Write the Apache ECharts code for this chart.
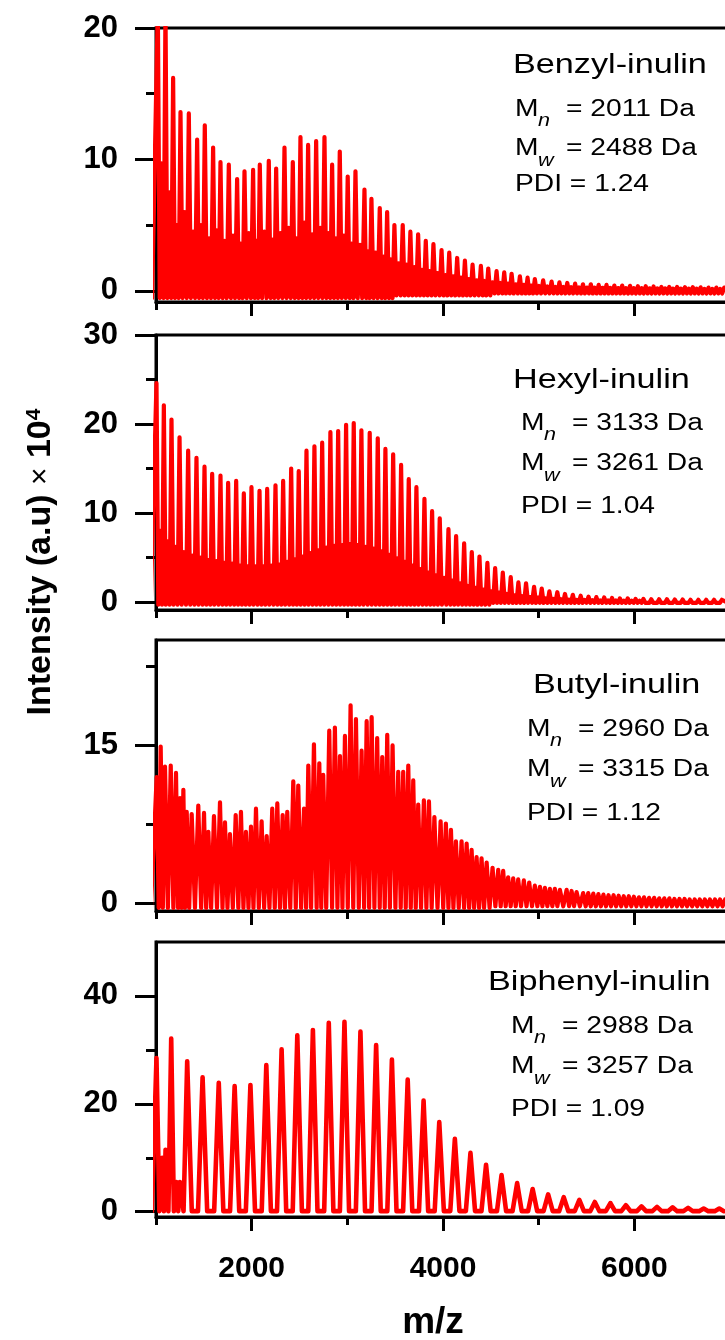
<!DOCTYPE html>
<html><head><meta charset="utf-8">
<script src="https://cdn.jsdelivr.net/npm/echarts@6/dist/echarts.min.js"></script>
<style>html,body{margin:0;padding:0;background:#fff}#c{width:725px;height:1340px}</style>
</head><body><div id="c"></div>
<script>
// ---------- data ----------
const xRange = [1000, 7000];
const xMajorTicks = [2000, 4000, 6000];
const xMinorTicks = [1000, 3000, 5000, 7000];

const sampleNames = ['Benzyl-inulin', 'Hexyl-inulin', 'Butyl-inulin', 'Biphenyl-inulin'];
const mnValues = ['2011', '3133', '2960', '2988'];
const mwValues = ['2488', '3261', '3315', '3257'];
const pdiValues = ['1.24', '1.04', '1.12', '1.09'];

const yMajorTicks = [[0, 10, 20], [0, 10, 20, 30], [0, 15], [0, 20, 40]];
const yMinorTicks = [[5, 15], [5, 15, 25], [7.5, 22.5], [10, 30]];
const yMaxValues = [20, 30, 25, 50];
const yMinValues = [-0.85, -0.9, -0.7, -0.98];

// Benzyl-inulin: main peaks, plus the smaller peak between neighbouring main peaks
const benzylMz = [1019,1099,1179,1256,1343,1430,1510,1597,1674,1761,
  1848,1925,2015,2085,2179,2256,2343,2430,2510,2590,
  2674,2761,2841,2921,3004,3085,3179,3252,3339,3416,
  3492,3579,3659,3740,3820,3900,3985,4065,4148,4229,
  4309,4396,4473,4560,4640,4717,4804,4884,4960,5047,
  5135,5217,5299,5381,5463,5545,5627,5709,5791,5873,
  5955,6037,6119,6201,6283,6365,6447,6529,6611,6693,
  6775,6857,6939];
const benzylInt = [21.5,21.5,16.2,13.6,13.5,11.5,12.6,10.9,9.8,9.6,
  8.5,9.1,9.2,9.6,9.9,9.3,10.9,9.8,11.7,11.1,
  11.4,11.7,9.6,10.6,8.7,9.1,7.7,7.0,6.3,6.0,
  5.0,5.0,4.5,4.3,3.8,3.55,3.1,2.9,2.5,2.3,
  2.0,1.9,1.7,1.5,1.4,1.3,1.1,1.0,0.9,0.8,
  0.7,0.65,0.6,0.55,0.5,0.5,0.45,0.45,0.4,0.4,
  0.38,0.35,0.35,0.33,0.3,0.3,0.3,0.28,0.28,0.27,
  0.25,0.25,0.25];
const benzylSubInt = [9.7,7.5,5,6,4.5,5,4,4.6,3.8,4.2,
  3.6,4.4,3.8,4.5,3.9,4.4,4.8,4.0,5.2,4.3,
  4.8,4.4,4.0,4.2,3.6,3.5,3.0,2.9,2.6,2.4,
  2.1,2.0,1.8,1.6,1.5,1.35,1.2,1.1,1.0,0.9,
  0.8,0.75,0.65,0.6,0.55,0.5,0.45,0.4,0.37,0.33,
  0.3,0.3,0.28,0.26,0.25,0.24,0.23,0.22,0.21,0.2,
  0.2,0.2,0.19,0.18,0.18,0.17,0.17,0.16,0.16,0.15,
  0.15,0.15];
const benzylBaseline = [[0, -0.55], [3500, -0.35], [4500, -0.2]];

// Hexyl-inulin
const hexylMz = [1005,1082,1162,1246,1336,1423,1507,1587,1674,1754,
  1838,1918,1998,2082,2162,2249,2329,2413,2492,2573,
  2656,2737,2823,2904,2987,3067,3147,3234,3318,3398,
  3479,3562,3642,3722,3806,3886,3966,4057,4137,4221,
  4301,4381,4464,4545,4625,4708,4788,4868,4952,5032,
  5112,5195,5275,5357,5439,5521,5603,5685,5767,5849,
  5931,6013,6095,6177,6259,6341,6423,6505,6587,6669,
  6751,6833,6915];
const hexylInt = [24.6,22.1,20.5,18.5,17.0,16.2,15.2,14.4,14.2,13.4,
  13.6,12.2,12.9,12.5,12.7,13.1,13.6,15.0,14.7,17.0,
  17.5,17.9,19.1,19.2,19.9,20.1,19.3,19.0,18.4,17.2,
  16.6,15.4,13.8,12.9,11.6,10.2,9.4,8.2,7.4,6.6,
  5.6,5.1,4.4,3.8,3.3,2.8,2.2,2.1,1.7,1.5,
  1.2,1.1,0.9,0.8,0.7,0.6,0.55,0.5,0.45,0.4,
  0.4,0.35,0.35,0.3,0.3,0.3,0.28,0.28,0.25,0.25,
  0.25,0.25,0.25];
const hexylSubInt = [8.0,6.8,6.2,5.6,5.2,5.0,4.7,4.6,4.4,4.3,
  4.1,4.0,4.0,4.0,4.1,4.2,4.5,4.8,5.1,5.5,
  5.8,6.1,6.3,6.4,6.5,6.4,6.2,6.0,5.7,5.3,
  4.9,4.5,4.1,3.7,3.3,3.0,2.7,2.4,2.1,1.8,
  1.6,1.4,1.2,1.05,0.9,0.75,0.65,0.55,0.5,0.4,
  0.35,0.3,0.27,0.24,0.22,0.2,0.18,0.17,0.16,0.15,
  0.14,0.13,0.12,0.12,0.11,0.11,0.1,0.1,0.1,0.1,
  0.1,0.1];
const hexylBaseline = [[0, -0.3], [4500, -0.1]];

// Butyl-inulin
const butylMz = [1007,1049,1094,1154,1209,1251,1286,1321,1373,1442,
  1502,1547,1606,1669,1721,1773,1833,1888,1940,1993,
  2045,2104,2157,2215,2268,2324,2372,2435,2487,2547,
  2592,2651,2707,2748,2811,2870,2923,2975,3034,3090,
  3149,3202,3254,3312,3365,3417,3473,3532,3584,3637,
  3689,3741,3800,3853,3910,3975,4030,4083,4135,4194,
  4247,4299,4351,4403,4456,4518,4577,4629,4681,4734,
  4786,4845,4901,4960,5013,5065,5117,5169,5222,5292,
  5344,5396,5465,5518,5571,5624,5677,5730,5783,5836,
  5889,5942,5995,6048,6101,6154,6207,6260,6313,6366,
  6419,6472,6525,6578,6631,6684,6737,6790,6843,6896,
  6949];
const butylInt = [12.0,14.9,13.0,13.1,12.4,10.0,10.8,8.7,8.5,9.3,
  8.6,6.8,8.3,9.6,7.7,6.6,8.4,8.7,6.8,7.3,
  9.0,7.8,6.4,9.0,9.5,8.4,8.7,11.6,11.2,9.0,
  13.1,15.1,13.3,12.2,16.4,16.7,14.0,15.9,18.8,17.5,
  14.5,17.3,17.7,15.7,13.9,16.0,15.0,12.5,12.5,13.1,
  11.7,9.4,9.8,9.7,8.2,7.8,7.6,7.0,5.9,5.9,
  5.7,5.1,4.4,4.3,3.9,3.4,3.2,3.1,2.5,2.4,
  2.3,2.2,2.0,1.7,1.6,1.5,1.4,1.4,1.3,1.3,
  1.2,1.1,1.0,1.0,0.95,0.9,0.85,0.8,0.8,0.75,
  0.7,0.7,0.65,0.6,0.6,0.55,0.55,0.5,0.5,0.5,
  0.45,0.45,0.45,0.4,0.4,0.4,0.4,0.4,0.4,0.4,
  0.4];
const butylBaseline = [[0, -0.4], [4500, -0.25]];

// Biphenyl-inulin
const biphenylMz = [1005,1065,1100,1159,1215,1250,1326,1487,1656,1822,
  1987,2153,2313,2477,2640,2806,2970,3137,3301,3466,
  3631,3797,3961,4124,4287,4450,4612,4775,4937,5099,
  5262,5425,5587,5750,5912,6075,6237,6400,6562,6725,
  6888];
const biphenylInt = [28.5,10,11.5,32.1,5.5,5.5,27.9,24.9,23.9,23.3,
  23.5,27.2,30.1,32.7,33.7,35.0,35.2,33.4,30.9,28.2,
  24.5,20.6,16.6,13.5,10.9,8.7,6.8,5.3,4.2,3.2,
  2.7,2.2,1.8,1.6,1.2,1.0,0.9,0.8,0.7,0.6,
  0.6];
const biphenylBaseline = [[0, 0.1]];

// ---------- building the traces ----------
function levelAt(steps, x) { let v = steps[0][1]; for (const s of steps) if (x >= s[0]) v = s[1]; return v; }
function withSubPeaks(mz, h, sub) {
  const m = [], v = [];
  for (let i = 0; i < mz.length; i++) {
    m.push(mz[i]); v.push(h[i]);
    if (i < mz.length - 1 && sub && sub[i] != null) { m.push((mz[i] + mz[i + 1]) / 2); v.push(sub[i]); }
  }
  return [m, v];
}
function trace(mz, h, baseSteps, halfWidth) {
  const pts = [];
  for (let i = 0; i < mz.length; i++) {
    const prev = i > 0 ? mz[i - 1] : -Infinity;
    const next = i < mz.length - 1 ? mz[i + 1] : Infinity;
    const lf = Math.max(mz[i] - halfWidth, (mz[i] + prev) / 2);
    const rf = Math.min(mz[i] + halfWidth, (mz[i] + next) / 2);
    if (!pts.length || pts[pts.length - 1][0] < lf) pts.push([lf, levelAt(baseSteps, lf)]);
    pts.push([mz[i], h[i]]);
    pts.push([rf, levelAt(baseSteps, rf)]);
  }
  return pts;
}
const p1 = withSubPeaks(benzylMz, benzylInt, benzylSubInt);
const p2 = withSubPeaks(hexylMz, hexylInt, hexylSubInt);
const traces = [
  trace(p1[0], p1[1], benzylBaseline, 60),
  trace(p2[0], p2[1], hexylBaseline, 60),
  trace(butylMz, butylInt, butylBaseline, 60),
  trace(biphenylMz, biphenylInt, biphenylBaseline, 48)
];
const lineWidths = [4.2, 4.2, 4.2, 4.6];

// ---------- chart ----------
const F = "'Liberation Sans', Arial, Helvetica, sans-serif";
const gridTops = [28, 335, 640, 942];
const gridHeights = [274, 275, 271, 275];

const grids = [], xAxes = [], yAxes = [], series = [];
for (let i = 0; i < 4; i++) {
  grids.push({ left: 156, right: -5, top: gridTops[i], height: gridHeights[i], show: true,
    borderColor: '#000', borderWidth: 3, backgroundColor: 'transparent', outerBoundsMode: 'none' });
  const last = i === 3;
  xAxes.push({ gridIndex: i, type: 'value', min: xRange[0], max: xRange[1], position: 'bottom',
    axisLine: { show: true, onZero: false, lineStyle: { color: '#000', width: 3 } },
    axisTick: { show: true, customValues: xMajorTicks, length: 14, lineStyle: { color: '#000', width: 3 } },
    axisLabel: { show: last, customValues: xMajorTicks, margin: 37, color: '#000', fontSize: 30, fontWeight: 'bold', fontFamily: F,
      formatter: function (v) { return String(v); } },
    splitLine: { show: false } });
  xAxes.push({ gridIndex: i, type: 'value', min: xRange[0], max: xRange[1], position: 'bottom',
    axisLine: { show: false, onZero: false },
    axisTick: { show: true, customValues: xMinorTicks, length: 8, lineStyle: { color: '#000', width: 3 } },
    axisLabel: { show: false }, splitLine: { show: false } });
  yAxes.push({ gridIndex: i, type: 'value', min: yMinValues[i], max: yMaxValues[i], position: 'left',
    axisLine: { show: true, onZero: false, lineStyle: { color: '#000', width: 3 } },
    axisTick: { show: true, customValues: yMajorTicks[i], length: 21, lineStyle: { color: '#000', width: 3 } },
    axisLabel: { show: true, customValues: yMajorTicks[i], margin: 38, color: '#000', fontSize: 31, fontWeight: 'bold', fontFamily: F,
      formatter: function (v) { return String(v); } },
    splitLine: { show: false } });
  yAxes.push({ gridIndex: i, type: 'value', min: yMinValues[i], max: yMaxValues[i], position: 'left',
    axisLine: { show: false, onZero: false },
    axisTick: { show: true, customValues: yMinorTicks[i], length: 10, lineStyle: { color: '#000', width: 3 } },
    axisLabel: { show: false }, splitLine: { show: false } });
  series.push({ type: 'line', xAxisIndex: 2 * i, yAxisIndex: 2 * i, data: traces[i], showSymbol: false,
    symbol: 'none', clip: true, silent: true, sampling: null,
    lineStyle: { color: '#ff0000', width: lineWidths[i], join: 'round', cap: 'round' } });
}

// annotations
const annotX = [515, 521, 527, 511];
const titleDx = [-2, -8, 6, -23];
const titleBase = [75, 390, 695, 992];
const mnBase = [118, 432, 738, 1035];
const mwBase = [157, 472, 778, 1075];
const pdiBase = [193, 515, 822, 1118];
const SX = 1.2;
function txt(x, y, text, size, extra) {
  return { type: 'text', x: x, y: y, style: Object.assign({ text: text, fontSize: size, fontFamily: F, fill: '#000', verticalAlign: 'middle', align: 'left' }, extra || {}) };
}
const graphics = [];
for (let i = 0; i < 4; i++) {
  graphics.push({ type: 'group', x: annotX[i], y: 0, scaleX: SX, children: [
    txt(titleDx[i] / SX, titleBase[i] - 10, sampleNames[i], 28.5),
    txt(0, mnBase[i] - 8.2, 'M', 23.5),
    txt(23 / SX, mnBase[i] + 9 - 6, 'n', 18, { fontStyle: 'italic' }),
    txt(51 / SX, mnBase[i] - 8.2, '= ' + mnValues[i] + ' Da', 23.5),
    txt(0, mwBase[i] - 8.2, 'M', 23.5),
    txt(23 / SX, mwBase[i] + 10 - 6, 'w', 18, { fontStyle: 'italic' }),
    txt(51 / SX, mwBase[i] - 8.2, '= ' + mwValues[i] + ' Da', 23.5),
    txt(0, pdiBase[i] - 8.2, 'PDI = ' + pdiValues[i], 23.5)
  ] });
}
graphics.push({ type: 'text', x: 41, y: 562, rotation: Math.PI / 2,
  style: { text: 'Intensity (a.u) {t|×} 10{s|4}', fontSize: 34, fontWeight: 'bold', fontFamily: F, fill: '#000',
    align: 'center', verticalAlign: 'middle',
    rich: { t: { fontSize: 30, fontWeight: 'normal', fontFamily: F, fill: '#000' },
            s: { fontSize: 21, fontWeight: 'bold', fontFamily: F, fill: '#000', verticalAlign: 'top' } } } });
graphics.push({ type: 'text', x: 433, y: 1323,
  style: { text: 'm/z', fontSize: 37, fontWeight: 'bold', fontFamily: F, fill: '#000', align: 'center', verticalAlign: 'middle' } });

const chart = echarts.init(document.getElementById('c'), null, { renderer: 'canvas' });
chart.setOption({ animation: false, backgroundColor: '#fff', grid: grids, xAxis: xAxes, yAxis: yAxes, series: series, graphic: graphics });
</script></body></html>
